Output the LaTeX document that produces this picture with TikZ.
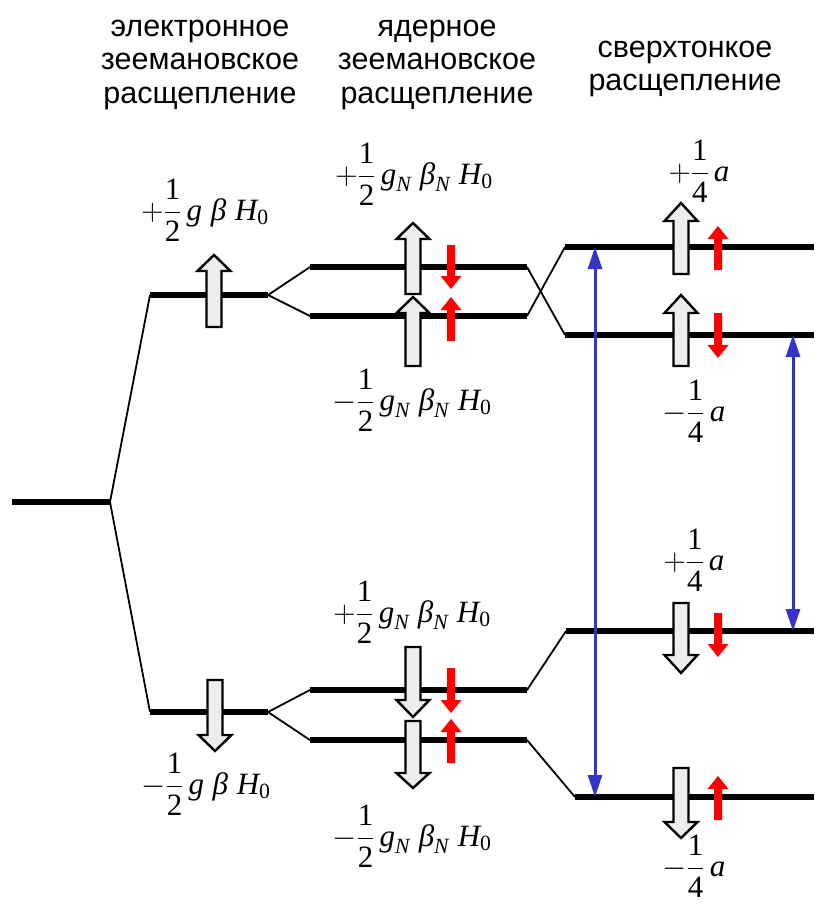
\RequirePackage{fix-cm}
\documentclass[tikz,border=0pt]{standalone}
\usepackage{amsmath}
\usepackage{fontspec}
\setmainfont{Liberation Serif}
\newfontfamily\hdrfont{Liberation Sans}
\usetikzlibrary{arrows.meta}
\definecolor{trblue}{HTML}{3434C8}
\definecolor{spinred}{HTML}{FF0000}
\definecolor{arrfill}{HTML}{EDEDED}
\tikzset{
  level/.style={line width=6pt},
  link/.style={line width=1.8pt},
  bigarr/.style={draw=black, fill=arrfill, line width=2.4pt, line join=miter},
  redarr/.style={fill=spinred, draw=none},
  trans/.style={draw=trblue, line width=3pt, {Triangle[length=22pt,width=14pt]}-{Triangle[length=22pt,width=14pt]}},
  hdr/.style={font=\hdrfont\fontsize{30.5}{34}\selectfont, anchor=base, inner sep=0pt},
  mlab/.style={font=\fontsize{31}{36}\selectfont, inner sep=0pt}
}
\newcommand{\bigarrow}[4]{\draw[bigarr] (#1-7.5,#2) -- (#1-7.5,#3) -- (#1-16.5,#3) -- (#1,#4) -- (#1+16.5,#3) -- (#1+7.5,#3) -- (#1+7.5,#2) -- cycle;}
\newcommand{\spinarrow}[4]{\fill[redarr] (#1-4,#2) -- (#1-4,#3) -- (#1-10.5,#3) -- (#1,#4) -- (#1+10.5,#3) -- (#1+4,#3) -- (#1+4,#2) -- cycle;}
\newcommand{\fr}[2]{\dfrac{\text{#1}}{\text{#2}}}
\newcommand{\iv}[1]{\textit{#1}}
\newcommand{\gbh}{\,\iv{g}\;\iv{β}\;\iv{H}_{\text{0}}}
\newcommand{\gbhN}{\,\iv{g}_{\iv{N}}\;\iv{β}_{\iv{N}}\;\iv{H}_{\text{0}}}
\begin{document}
\begin{tikzpicture}[x=1pt,y=-1pt]
\useasboundingbox (0,0) rectangle (814,907);
% headers
\node[hdr] (h1a) at (200,37) {электронное};
\node[hdr] (h1b) at (200,70) {зеемановское};
\node[hdr] (h1c) at (200,103) {расщепление};
\node[hdr] (h2a) at (437,37) {ядерное};
\node[hdr] (h2b) at (437,70) {зеемановское};
\node[hdr] (h2c) at (437,103) {расщепление};
\node[hdr] (h3a) at (685,57) {сверхтонкое};
\node[hdr] (h3b) at (685,90) {расщепление};
% coordinates
\coordinate (g0) at (12,502);
\coordinate (g1) at (110,502);
\coordinate (eu0) at (150,295); \coordinate (eu1) at (268,295);
\coordinate (ed0) at (150,712); \coordinate (ed1) at (268,712);
\coordinate (n1a) at (310,267); \coordinate (n1b) at (527,267);
\coordinate (n2a) at (310,316); \coordinate (n2b) at (527,316);
\coordinate (n3a) at (310,690); \coordinate (n3b) at (527,690);
\coordinate (n4a) at (310,740); \coordinate (n4b) at (527,740);
\coordinate (f1a) at (565,247); \coordinate (f1b) at (814,247);
\coordinate (f2a) at (565,335); \coordinate (f2b) at (814,335);
\coordinate (f3a) at (566,631); \coordinate (f3b) at (814,631);
\coordinate (f4a) at (575,797); \coordinate (f4b) at (814,797);
% thin links
\draw[link] (g1) -- (eu0);
\draw[link] (g1) -- (ed0);
\draw[link] (n1a) -- (eu1) -- (n2a);
\draw[link] (n3a) -- (ed1) -- (n4a);
\draw[link] (n1b) -- (f2a);
\draw[link] (n2b) -- (f1a);
\draw[link] (n3b) -- (f3a);
\draw[link] (n4b) -- (f4a);
% levels
\draw[level] (g0) -- (g1);
\draw[level] (eu0) -- (eu1);
\draw[level] (ed0) -- (ed1);
\draw[level] (n1a) -- (n1b);
\draw[level] (n2a) -- (n2b);
\draw[level] (n3a) -- (n3b);
\draw[level] (n4a) -- (n4b);
\draw[level] (f1a) -- (f1b);
\draw[level] (f2a) -- (f2b);
\draw[level] (f3a) -- (f3b);
\draw[level] (f4a) -- (f4b);
% transitions
\coordinate (t1a) at (595,247); \coordinate (t1b) at (595,797);
\coordinate (t2a) at (793,335); \coordinate (t2b) at (793,631);
\draw[trans] (t1a) -- (t1b);
\draw[trans] (t2a) -- (t2b);
% big electron-spin arrows
\bigarrow{214}{327}{271}{255}
\bigarrow{215}{680}{735}{751}
\bigarrow{413}{294}{239}{223}
\bigarrow{413}{366}{313}{297}
\bigarrow{413}{647}{700}{717}
\bigarrow{413}{721}{773}{788}
\bigarrow{681}{274}{221}{203}
\bigarrow{681}{366}{313}{295}
\bigarrow{681}{603}{655}{673}
\bigarrow{681}{768}{822}{838}
% red nuclear-spin arrows
\spinarrow{451}{245}{276}{289}
\spinarrow{451}{341}{310}{297}
\spinarrow{451}{668}{700}{713}
\spinarrow{451}{763}{732}{719}
\spinarrow{718}{270}{239}{226}
\spinarrow{718}{313}{345}{358}
\spinarrow{718}{613}{644}{657}
\spinarrow{718}{820}{789}{776}
% math labels
\node[mlab] (le1) at (205,210) {$+\fr{1}{2}\gbh$};
\node[mlab] (le2) at (206,784) {$-\fr{1}{2}\gbh$};
\node[mlab] (ln1) at (414,174) {$+\fr{1}{2}\gbhN$};
\node[mlab] (ln2) at (412,400) {$-\fr{1}{2}\gbhN$};
\node[mlab] (ln3) at (412,612) {$+\fr{1}{2}\gbhN$};
\node[mlab] (ln4) at (412,836) {$-\fr{1}{2}\gbhN$};
\node[mlab] (lh1) at (699,171) {$+\fr{1}{4}\,\iv{a}$};
\node[mlab] (lh2) at (694,411) {$-\fr{1}{4}\,\iv{a}$};
\node[mlab] (lh3) at (694,560) {$+\fr{1}{4}\,\iv{a}$};
\node[mlab] (lh4) at (694,866) {$-\fr{1}{4}\,\iv{a}$};
\end{tikzpicture}
\end{document}
